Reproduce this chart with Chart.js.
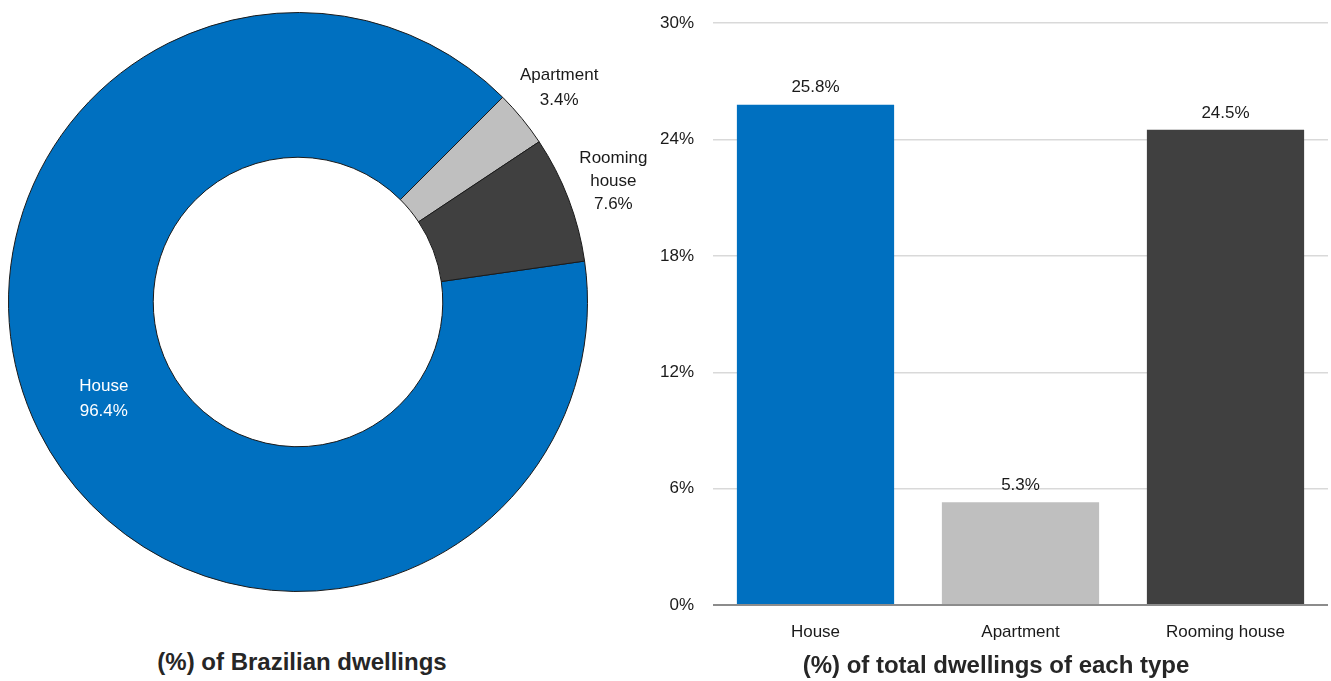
<!DOCTYPE html>
<html>
<head>
<meta charset="utf-8">
<script src="https://cdn.jsdelivr.net/npm/chart.js@4/dist/chart.umd.min.js"></script>
<style>
  html, body { margin: 0; padding: 0; background: #ffffff; }
  body { width: 1331px; height: 681px; position: relative; overflow: hidden;
         font-family: 'Liberation Sans', Arial, sans-serif; }
  canvas { position: absolute; }
  #shareChart { left: 0; top: 0; }
  #typeChart { left: 620px; top: -6px; }
  .caption { position: absolute; font-weight: bold; font-size: 24px; color: #262626;
             white-space: nowrap; transform: translate(-50%, -50%); line-height: 1; }
</style>
</head>
<body>
<canvas id="shareChart" width="660" height="640"></canvas>
<canvas id="typeChart" width="711" height="687"></canvas>
<div class="caption" style="left:302px; top:662px;">(%) of Brazilian dwellings</div>
<div class="caption" style="left:996px; top:665px;">(%) of total dwellings of each type</div>
<script>
// Dwelling types and their figures
const dwellingTypes = ['House', 'Apartment', 'Rooming house'];
const shareOfDwellings = [96.4, 3.4, 7.6];      // share of all Brazilian dwellings (%)
const shareWithinType = [25.8, 5.3, 24.5];      // share of total dwellings of each type (%)
const typeColors = ['#0070C0', '#BFBFBF', '#404040'];
const yTickMax = 30;
const yTickStep = 6;

Chart.defaults.font.family = "'Liberation Sans', Arial, sans-serif";
Chart.defaults.font.size = 17;
Chart.defaults.color = '#1a1a1a';

const pct = v => v.toFixed(1) + '%';

// Labels for the doughnut: the large slice is labelled inside the ring,
// the small ones just outside it.
const ringLabels = {
  id: 'ringLabels',
  afterDatasetsDraw(chart) {
    const ctx = chart.ctx;
    const meta = chart.getDatasetMeta(0);
    ctx.save();
    ctx.font = "17px 'Liberation Sans', Arial, sans-serif";
    ctx.textAlign = 'center';
    ctx.textBaseline = 'middle';
    meta.data.forEach((arc, i) => {
      const p = arc.getProps(['x', 'y', 'startAngle', 'endAngle', 'innerRadius', 'outerRadius'], true);
      const mid = (p.startAngle + p.endAngle) / 2;
      const inside = i === 0;
      const r = inside ? (p.innerRadius + p.outerRadius) / 2 : p.outerRadius + 48;
      const cx = p.x + Math.cos(mid) * r;
      const cy = p.y + Math.sin(mid) * r;
      const lines = dwellingTypes[i].split(' ').concat([pct(shareOfDwellings[i])]);
      const lh = lines.length > 2 ? 23 : 25;
      ctx.fillStyle = inside ? '#ffffff' : '#1a1a1a';
      lines.forEach((t, k) => {
        ctx.fillText(t, cx, cy + (k - (lines.length - 1) / 2) * lh);
      });
    });
    ctx.restore();
  }
};

const shareTotal = shareOfDwellings.reduce((a, b) => a + b, 0);

new Chart(document.getElementById('shareChart'), {
  type: 'doughnut',
  data: {
    labels: dwellingTypes,
    datasets: [{
      data: shareOfDwellings,
      backgroundColor: typeColors,
      borderColor: '#1a1a1a',
      borderWidth: 1,
      hoverOffset: 0
    }]
  },
  options: {
    responsive: false,
    animation: false,
    cutout: '50%',
    // the apartment slice begins at 45 degrees from the top
    rotation: 45 - 360 * shareOfDwellings[0] / shareTotal,
    layout: { padding: { left: 8, top: 12, right: 72, bottom: 48 } },
    plugins: { legend: { display: false }, tooltip: { enabled: false } }
  },
  plugins: [ringLabels]
});

// Value labels above each bar
const barValues = {
  id: 'barValues',
  afterDatasetsDraw(chart) {
    const ctx = chart.ctx;
    const meta = chart.getDatasetMeta(0);
    ctx.save();
    ctx.font = "17px 'Liberation Sans', Arial, sans-serif";
    ctx.fillStyle = '#1a1a1a';
    ctx.textAlign = 'center';
    ctx.textBaseline = 'middle';
    meta.data.forEach((bar, i) => {
      ctx.fillText(pct(shareWithinType[i]), bar.x, bar.y - 17);
    });
    ctx.restore();
  }
};

new Chart(document.getElementById('typeChart'), {
  type: 'bar',
  data: {
    labels: dwellingTypes,
    datasets: [{
      data: shareWithinType,
      backgroundColor: typeColors,
      borderWidth: 0,
      barPercentage: 0.767,
      categoryPercentage: 1.0
    }]
  },
  options: {
    responsive: false,
    animation: false,
    layout: { padding: { top: 16, right: 3, bottom: 0, left: 0 } },
    plugins: { legend: { display: false }, tooltip: { enabled: false } },
    scales: {
      x: {
        grid: { display: false, drawTicks: false },
        border: { display: false },
        ticks: { padding: 17, color: '#1a1a1a', font: { size: 17 } },
        afterFit(scale) { scale.height = 76; }
      },
      y: {
        min: 0,
        max: yTickMax,
        ticks: {
          stepSize: yTickStep,
          padding: 19,
          color: '#1a1a1a',
          font: { size: 17 },
          callback: v => v + '%'
        },
        grid: {
          drawTicks: false,
          color: c => (c.tick && c.tick.value === 0) ? '#8c8c8c' : '#d9d9d9',
          lineWidth: c => (c.tick && c.tick.value === 0) ? 2 : 1.5
        },
        border: { display: false },
        afterFit(scale) { scale.width = 93; }
      }
    }
  },
  plugins: [barValues]
});
</script>
</body>
</html>
